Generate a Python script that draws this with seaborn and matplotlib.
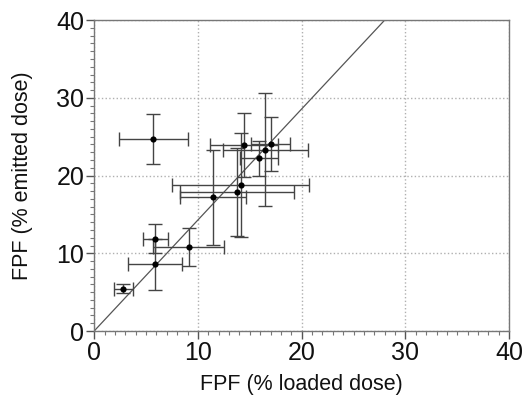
import matplotlib
matplotlib.use('Agg')
import matplotlib.pyplot as plt
import seaborn as sns
import pandas as pd
from matplotlib.ticker import MultipleLocator

# FPF values
fpf_loaded = [2.8, 5.7, 5.9, 5.9, 9.1, 11.45, 13.75, 14.15, 14.45, 15.9, 16.5, 17.0]
fpf_emitted = [5.45, 24.7, 11.9, 8.6, 10.8, 17.2, 17.9, 18.75, 23.95, 22.2, 23.35, 24.1]
loaded_err = [0.9, 3.3, 1.2, 2.6, 3.4, 3.2, 5.5, 6.6, 3.3, 1.85, 4.1, 1.9]
emitted_err = [0.6, 3.2, 1.9, 3.3, 2.4, 6.1, 5.7, 6.7, 4.15, 2.2, 7.3, 3.45]
line_slope = 40 / 28.0

df = pd.DataFrame({'loaded': fpf_loaded, 'emitted': fpf_emitted,
                   'xerr': loaded_err, 'yerr': emitted_err})

sns.set_style('ticks')
plt.rcParams['font.family'] = ['Liberation Sans', 'DejaVu Sans']
plt.rcParams['text.color'] = '#111111'
plt.rcParams['axes.labelcolor'] = '#111111'
plt.rcParams['xtick.labelcolor'] = '#111111'
plt.rcParams['ytick.labelcolor'] = '#111111'

fig = plt.figure(figsize=(5.26, 3.95), dpi=100)
ax = fig.add_axes([0.179, 0.162, 0.789, 0.787])

# error bars first, dots on top
ax.errorbar(df['loaded'], df['emitted'], xerr=df['xerr'], yerr=df['yerr'],
            fmt='none', ecolor='#444444', elinewidth=1.0, capsize=5, capthick=1.0, zorder=2)
sns.scatterplot(data=df, x='loaded', y='emitted', color='black', s=20,
                edgecolor='black', linewidth=0, ax=ax, zorder=3)
ax.axline((0, 0), slope=line_slope, color='#555555', linewidth=0.9, zorder=1)

ax.set_xlim(0, 40)
ax.set_ylim(0, 40)
ax.xaxis.set_major_locator(MultipleLocator(10))
ax.yaxis.set_major_locator(MultipleLocator(10))
ax.xaxis.set_minor_locator(MultipleLocator(1))
ax.yaxis.set_minor_locator(MultipleLocator(1))
ax.tick_params(which='major', length=6, width=1, color='#555555', labelsize=18, pad=1)
ax.tick_params(which='minor', length=3, width=0.8, color='#777777')
ax.grid(which='major', linestyle=':', color='#b0b0b0', linewidth=1)

for s in ax.spines.values():
    s.set_color('#777777')
    s.set_linewidth(1)

ax.set_xlabel('FPF (% loaded dose)', fontsize=15.5, labelpad=7)
ax.set_ylabel('FPF (% emitted dose)', fontsize=15.5, labelpad=17)

plt.savefig('out.png', dpi=100)
plt.close()
